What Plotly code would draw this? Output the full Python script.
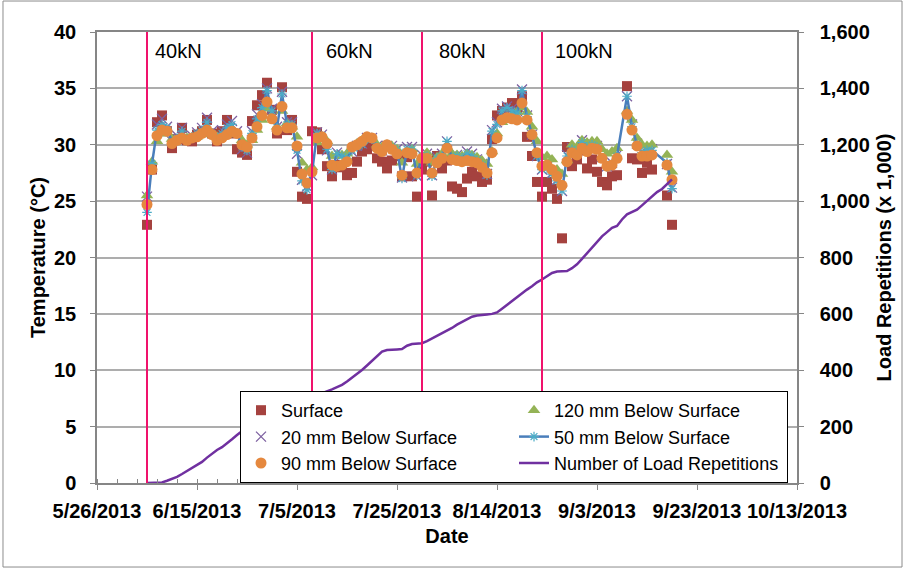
import pandas as pd
import plotly.graph_objects as go

# ---------------- data ----------------
start_date = "2013-06-05"
n_days = 106
dates = list(pd.date_range(start_date, periods=n_days, freq="D"))

surface = [22.9, 27.8, 32.0, 32.6, 31.2, 29.7, 30.5, 31.5, 30.4, 30.3,
           30.9, 31.2, 32.2, 31.0, 30.3, 31.2, 32.2, 31.0, 29.6, 29.3,
           29.1, 32.1, 33.5, 34.4, 35.5, 33.1, 31.0, 35.1, 31.3, 32.2,
           27.6, 25.4, 25.2, 31.2, 31.1, 29.6, 28.1, 27.2, 28.2, 28.0,
           27.3, 27.5, 28.5, 29.4, 29.6, 30.0, 28.8, 28.5, 27.9, 28.6,
           29.0, 27.2, 28.9, 27.2, 25.4, 27.8, 28.5, 25.5, 29.0, 27.9,
           28.6, 26.3, 26.1, 25.8, 27.0, 27.6, 27.2, 26.7, 26.9, 30.5,
           32.6, 33.0, 33.3, 33.7, 33.2, 34.3, 30.7, 29.0, 26.7, 25.4,
           26.7, 26.1, 25.2, 21.7, 29.8, 28.1, 28.7, 29.5, 27.9, 28.7,
           27.6, 26.7, 26.4, 27.2, 27.3, None, 35.2, 28.8, 28.7, 27.5,
           28.4, 27.8, None, None, 25.5, 22.9]

mm20 = [25.4, 28.0, 31.8, 32.3, 31.6, 30.3, 30.8, 31.5, 30.6, 30.8,
        31.1, 31.5, 32.4, 31.2, 30.6, 31.3, 31.8, 32.1, 31.2, 29.6,
        29.3, 31.2, 32.7, 33.6, 35.0, 33.2, 31.6, 34.7, 32.0, 32.0,
        29.2, 26.9, 26.3, 27.3, 31.1, 30.9, 29.5, 27.8, 29.3, 29.1,
        28.8, 29.4, 29.9, 30.1, 30.6, 30.6, 29.9, 29.5, 29.9, 29.9,
        29.6, 27.1, 29.8, 29.8, 27.2, 29.1, 29.2, 27.3, 28.9, 29.2,
        30.3, 29.0, 29.1, 29.0, 29.4, 29.2, 28.7, 28.3, 27.4, 31.3,
        32.0, 33.2, 33.4, 33.2, 33.0, 34.9, 32.6, 30.9, 29.0, 27.8,
        28.0, 27.5, 26.9, 25.9, 29.1, 29.7, 29.5, 30.4, 29.9, 30.1,
        29.9, 28.9, 28.1, 28.4, 29.1, None, 34.3, 31.8, 30.1, 29.4,
        29.6, 29.6, None, None, 28.3, 26.2]

mm50 = [24.0, 28.3, 31.3, 31.8, 31.5, 30.2, 30.6, 31.2, 30.5, 30.7,
        31.0, 31.3, 32.0, 31.0, 30.5, 31.0, 31.5, 31.8, 31.0, 29.8,
        29.5, 31.0, 32.3, 33.3, 34.8, 33.0, 31.5, 34.5, 31.8, 31.8,
        29.5, 26.8, 26.0, 27.5, 31.0, 30.8, 29.6, 27.8, 29.2, 29.0,
        28.8, 29.5, 29.8, 30.0, 30.5, 30.5, 29.8, 29.5, 29.8, 29.8,
        29.5, 27.0, 29.6, 29.6, 27.3, 29.0, 29.0, 27.2, 28.8, 29.0,
        30.3, 28.8, 29.0, 28.8, 29.2, 29.0, 28.6, 28.2, 27.3, 31.2,
        31.8, 33.0, 33.3, 33.0, 32.8, 34.8, 32.5, 30.9, 29.0, 27.8,
        27.9, 27.4, 26.8, 25.9, 29.0, 29.6, 29.4, 30.2, 29.8, 30.0,
        29.8, 28.8, 28.0, 28.3, 29.0, None, 34.3, 31.6, 30.0, 29.3,
        29.5, 29.5, None, None, 28.4, 26.1]

mm90 = [24.7, 27.8, 30.8, 31.3, 31.2, 30.1, 30.4, 30.6, 30.4, 30.6,
        30.7, 31.0, 31.3, 30.9, 30.4, 30.6, 30.9, 31.2, 31.0, 30.0,
        29.8, 30.6, 31.6, 32.6, 33.8, 32.3, 31.3, 33.4, 31.5, 31.5,
        29.9, 27.4, 26.6, 27.6, 30.6, 30.7, 30.1, 28.2, 28.1, 28.2,
        28.5, 29.8, 30.0, 30.3, 30.7, 30.6, 29.7, 29.4, 30.0, 29.6,
        29.2, 27.3, 29.3, 29.2, 27.5, 28.8, 28.8, 27.5, 28.4, 28.8,
        29.7, 28.7, 28.6, 28.5, 28.6, 28.5, 28.4, 28.0, 27.5, 29.3,
        30.6, 32.2, 32.4, 32.3, 32.2, 33.7, 32.2, 30.9, 29.3, 28.1,
        28.2, 27.8, 27.2, 26.4, 28.5, 29.3, 29.1, 29.7, 29.4, 29.7,
        29.6, 28.8, 28.1, 28.2, 28.8, None, 32.7, 31.3, 29.9, 29.0,
        29.0, 29.1, None, None, 28.2, 26.9]

mm120 = [25.5, 28.5, 30.3, 31.0, 31.0, 30.5, 30.4, 30.6, 30.6, 30.6,
         30.7, 30.9, 31.2, 31.0, 30.7, 30.7, 30.9, 31.1, 31.0, 30.4,
         30.0, 30.4, 31.3, 32.2, 33.2, 32.5, 31.6, 33.0, 31.9, 31.6,
         30.7, 28.4, 27.8, 28.0, 30.2, 30.6, 30.3, 29.0, 29.0, 29.1,
         29.2, 29.8, 30.1, 30.4, 30.6, 30.6, 30.0, 29.8, 30.0, 29.9,
         29.6, 28.4, 29.4, 29.6, 28.3, 29.0, 29.3, 28.4, 28.9, 29.2,
         29.8, 29.2, 29.1, 29.0, 29.2, 29.1, 28.9, 28.6, 28.3, 29.4,
         31.0, 32.0, 32.4, 32.6, 32.9, 33.3, 32.9, 31.6, 30.3, 28.9,
         29.0, 28.7, 27.8, 27.4, 28.6, 30.0, 29.8, 30.4, 30.2, 30.3,
         30.3, 29.6, 29.2, 29.4, 29.7, None, 33.0, 32.2, 30.6, 30.0,
         29.9, 30.0, None, None, 29.1, 27.6]

load_reps = [0, 0, 1, 2, 8, 15, 22, 32, 42, 52,
             62, 75, 90, 105, 117, 127, 140, 155, 170, 185,
             198, 208, 218, 228, 238, 247, 256, 265, 273, 282,
             290, 297, 303, 307, 312, 318, 325, 332, 340, 348,
             360, 373, 387, 401, 417, 434, 450, 466, 472, 474,
             474, 475, 487, 493, 494, 496, 503, 512, 520, 531,
             538, 550, 562, 572, 580, 590, 594, 597, 598, 600,
             605, 618, 632, 645, 660, 672, 686, 698, 712, 722,
             733, 745, 750, 750, 752, 762, 776, 795, 815, 835,
             855, 875, 890, 905, 912, 935, 953, 962, 970, 985,
             1000, 1018, 1032, 1043, 1060, 1077]

load_dates = ["2013-06-05", "2013-07-08", "2013-07-30", "2013-08-23"]
load_labels = ["40kN", "60kN", "80kN", "100kN"]

x_range = ["2013-05-26", "2013-10-13"]
DAY_MS = 86400000

# ---------------- figure ----------------
FONT = "Liberation Sans, Arial, sans-serif"
fig = go.Figure()

fig.add_trace(go.Scatter(
    x=dates, y=surface, mode="markers", name="Surface", legendrank=1,
    marker=dict(symbol="square", size=10, color="#A5423F")))
fig.add_trace(go.Scatter(
    x=dates, y=mm20, mode="markers", name="20 mm Below Surface", legendrank=3,
    marker=dict(symbol="x-thin-open", size=10, line=dict(color="#7D60A0", width=1.3),
                color="#7D60A0")))
fig.add_trace(go.Scatter(
    x=dates, y=mm120, mode="markers", name="120 mm Below Surface", legendrank=2,
    marker=dict(symbol="triangle-up", size=11, color="#94B356")))
fig.add_trace(go.Scatter(
    x=dates, y=mm50, mode="lines+markers", name="50 mm Below Surface", legendrank=4,
    connectgaps=True,
    line=dict(color="#4A7EBB", width=2.5),
    marker=dict(symbol="asterisk-open", size=8, line=dict(color="#4BACC6", width=1.2),
                color="#4BACC6")))
fig.add_trace(go.Scatter(
    x=dates, y=mm90, mode="markers", name="90 mm Below Surface", legendrank=5,
    marker=dict(symbol="circle", size=11, color="#E5883E")))
fig.add_trace(go.Scatter(
    x=dates, y=load_reps, mode="lines", name="Number of Load Repetitions", legendrank=6,
    yaxis="y2", line=dict(color="#7030A0", width=2.5)))

label_shifts = [6, 12, 15, 11]
shapes = []
annotations = []
for d, lab, sh in zip(load_dates, load_labels, label_shifts):
    shapes.append(dict(type="line", xref="x", yref="paper", x0=d, x1=d, y0=0, y1=1,
                       line=dict(color="#F0126C", width=2), layer="above"))
    annotations.append(dict(x=d, xref="x", y=1, yref="paper", text=lab, showarrow=False,
                            xanchor="left", yanchor="top", xshift=sh, yshift=-6,
                            font=dict(family=FONT, size=20, color="#000000")))

# outer chart border
shapes.append(dict(type="rect", xref="paper", yref="paper",
                   x0=-0.1343, x1=1.150, y0=-0.1863, y1=1.0687,
                   line=dict(color="#8C8C8C", width=1), layer="below"))

axis_line = "#868686"
tick_font = dict(family=FONT, size=20, color="#000000", weight="bold")
title_font = dict(family=FONT, size=20, color="#000000", weight="bold")

fig.update_layout(
    width=904, height=569,
    margin=dict(l=97, r=107, t=32, b=86),
    paper_bgcolor="white", plot_bgcolor="white",
    showlegend=True,
    shapes=shapes, annotations=annotations,
    xaxis=dict(
        type="date", range=x_range, tick0=x_range[0], dtick=20 * DAY_MS,
        tickformat="%-m/%-d/%Y", tickfont=tick_font,
        showgrid=False, zeroline=False,
        showline=True, linecolor=axis_line, linewidth=1.5, mirror=True,
        ticks="outside", ticklen=5, tickcolor=axis_line, ticklabelstandoff=4,
        minor=dict(tick0=x_range[0], dtick=4 * DAY_MS, ticks="inside", ticklen=4,
                   tickcolor=axis_line, showgrid=False),
        title=dict(text="Date", font=title_font, standoff=8),
    ),
    yaxis=dict(
        range=[0, 40], dtick=5, tickfont=tick_font,
        showgrid=True, gridcolor="#ADADAD", gridwidth=1.5, zeroline=False,
        showline=True, linecolor=axis_line, linewidth=1.5,
        ticks="outside", ticklen=5, tickcolor=axis_line, ticklabelstandoff=10,
        title=dict(text="Temperature (°C)", font=title_font, standoff=3),
    ),
    yaxis2=dict(
        range=[0, 1600], dtick=200, tickformat=",", tickfont=tick_font,
        overlaying="y", side="right", showgrid=False, zeroline=False,
        showline=True, linecolor=axis_line, linewidth=1.5,
        ticks="outside", ticklen=5, tickcolor=axis_line, ticklabelstandoff=12,
        title=dict(text="Load Repetitions (x 1,000)", font=title_font, standoff=8),
    ),
    legend=dict(
        orientation="h", x=0.2043, y=0.204, xanchor="left", yanchor="top",
        bgcolor="white", bordercolor="#000000", borderwidth=1,
        entrywidth=228, entrywidthmode="pixels", itemwidth=30,
        font=dict(family=FONT, size=18, color="#000000"),
        traceorder="normal",
    ),
)

fig.write_html("out.html")
